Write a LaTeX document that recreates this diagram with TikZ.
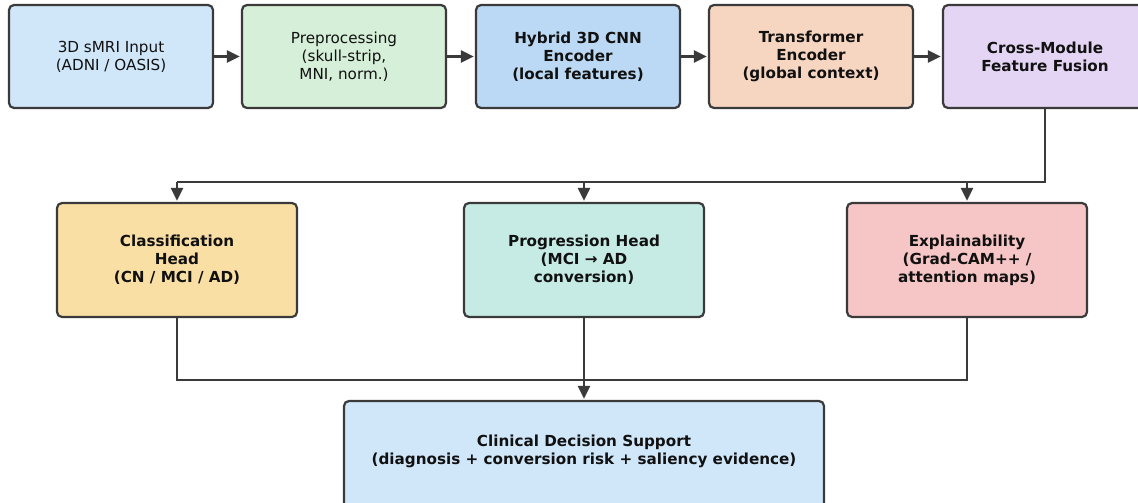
\documentclass[tikz,border=0pt]{standalone}
\usepackage{fontspec}
\setmainfont{DejaVu Sans}
\usetikzlibrary{arrows.meta}
\definecolor{edge}{HTML}{3A3A3A}
\definecolor{txt}{HTML}{111111}
\definecolor{cin}{HTML}{D0E6F9}
\definecolor{cprep}{HTML}{D6EFD8}
\definecolor{ccnn}{HTML}{BBD9F5}
\definecolor{ctrans}{HTML}{F6D5C1}
\definecolor{cfus}{HTML}{E4D5F4}
\definecolor{ccls}{HTML}{FADFA5}
\definecolor{cprog}{HTML}{C6EBE4}
\definecolor{cexpl}{HTML}{F6C5C5}
\definecolor{ccds}{HTML}{D0E6F9}
\begin{document}
\begin{tikzpicture}[x=1pt,y=-1pt,
  box/.style={draw=edge, line width=2.2pt, rounded corners=5pt, align=center,
    text=txt, inner sep=0pt, font=\fontsize{15.2}{18}\selectfont},
  topbox/.style={box, minimum width=204pt, minimum height=103pt},
  topbold/.style={topbox, font=\fontsize{15.2}{18}\selectfont\bfseries},
  midbox/.style={box, minimum width=240pt, minimum height=114pt, font=\fontsize{15.2}{18}\selectfont\bfseries},
  conn/.style={line width=2.7pt, draw=edge},
  arr/.style={conn, -{Triangle[length=13pt,width=12pt]}, shorten >=1pt}]
\useasboundingbox (0,0) rectangle (1138,503);
% top row
\node[topbox, fill=cin] (in) at (111,56.5) {3D sMRI Input\\(ADNI / OASIS)};
\node[topbox, fill=cprep] (prep) at (344,56.5) {Preprocessing\\(skull-strip,\\MNI, norm.)};
\node[topbold, fill=ccnn] (cnn) at (578,56.5) {Hybrid 3D CNN\\Encoder\\(local features)};
\node[topbold, fill=ctrans] (trans) at (811,56.5) {Transformer\\Encoder\\(global context)};
\node[topbold, fill=cfus] (fus) at (1045,56.5) {Cross-Module\\Feature Fusion};
\draw[arr] (in) -- (prep);
\draw[arr] (prep) -- (cnn);
\draw[arr] (cnn) -- (trans);
\draw[arr] (trans) -- (fus);
% middle row
\node[midbox, fill=ccls] (cls) at (177,260) {Classification\\Head\\(CN / MCI / AD)};
\node[midbox, fill=cprog] (prog) at (584,260) {Progression Head\\(MCI → AD\\conversion)};
\node[midbox, fill=cexpl] (expl) at (967,260) {Explainability\\(Grad-CAM++ /\\attention maps)};
% upper bus
\coordinate (b1) at (177,182);
\coordinate (b2) at (584,182);
\coordinate (b3) at (967,182);
\coordinate (bR) at (1045,182);
\draw[conn] (fus.south) -- (bR) -- (b1);
\draw[arr] (b1) -- (cls.north);
\draw[arr] (b2) -- (prog.north);
\draw[arr] (b3) -- (expl.north);
% bottom
\node[box, fill=ccds, minimum width=480pt, minimum height=110pt] (cds) at (584,456) {};
\node[font=\fontsize{15.2}{18}\selectfont\bfseries, text=txt, align=center, inner sep=0pt] (cdstext) at (584,451) {Clinical Decision Support\\(diagnosis + conversion risk + saliency evidence)};
\coordinate (m1) at (177,380);
\coordinate (m2) at (584,380);
\coordinate (m3) at (967,380);
\draw[conn] (cls.south) -- (m1) -- (m3) -- (expl.south);
\draw[conn] (prog.south) -- (m2);
\draw[arr] (m2) -- (cds.north);
\end{tikzpicture}
\end{document}
